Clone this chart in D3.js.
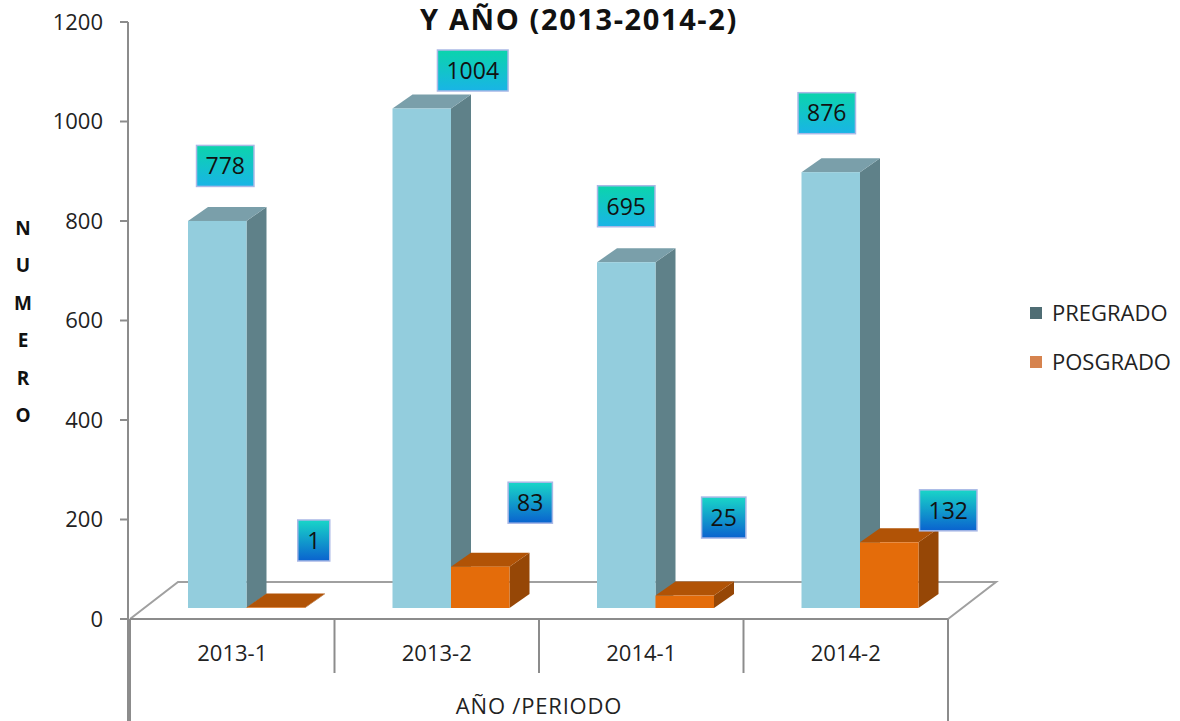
<!DOCTYPE html>
<html>
<head>
<meta charset="utf-8">
<script src="https://cdn.jsdelivr.net/npm/d3@7"></script>
<style>
  body { margin: 0; background: #fff; }
  svg { display: block; font-family: "Open Sans", "Noto Sans", sans-serif; }
</style>
</head>
<body>
<svg width="1180" height="721"></svg>
<script>
const categories = ["2013-1", "2013-2", "2014-1", "2014-2"];
const seriesNames = ["PREGRADO", "POSGRADO"];
const pregrado = [778, 1004, 695, 876];
const posgrado = [1, 83, 25, 132];
const yTicks = [0, 200, 400, 600, 800, 1000, 1200];

// hand-placed label boxes (offset from bar front-top centre), like the original
const labelShift = [
  [[8, -55], [51, -38], [0, -56], [-4, -59]],
  [[38, -67], [50, -64], [39, -78], [59, -32]]
];

const svg = d3.select("svg");
const values = [pregrado, posgrado];

const y = d3.scaleLinear().domain([0, 1200]).range([619, 22]);
const x = d3.scaleBand().domain(categories).range([130, 948]);
const xInner = d3.scaleBand().domain(seriesNames).range([58, 175]);

const barLift = 11;           // bars stand a bit behind the front edge of the floor
const depth = { dx: 20, dy: -14 };
const floor = { dx: 48, dy: -37 };

const faces = [
  { front: "#93cddd", top: "#7a9faa", side: "#5f8189" },
  { front: "#e46c0a", top: "#b15306", side: "#964706" }
];
const legendColors = ["#4f6d74", "#d6834e"];

const axisColor = "#8c8c8c";

// title (first line falls outside the picture)
svg.append("text")
  .attr("x", 579).attr("y", 30)
  .attr("text-anchor", "middle")
  .attr("font-size", 29).attr("font-weight", "bold")
  .attr("letter-spacing", 1.6)
  .attr("fill", "#111")
  .text("Y AÑO (2013-2014-2)");

// floor
const y0 = y(0);
svg.append("path")
  .attr("d", `M${x.range()[0]},${y0} L${x.range()[0] + floor.dx},${y0 + floor.dy} L${x.range()[1] + floor.dx},${y0 + floor.dy} L${x.range()[1]},${y0}`)
  .attr("fill", "none").attr("stroke", "#a0a0a0").attr("stroke-width", 2);

// y axis
const yAxis = svg.append("g");
yAxis.append("line")
  .attr("x1", 128).attr("x2", 128).attr("y1", y(1200)).attr("y2", 721)
  .attr("stroke", axisColor).attr("stroke-width", 2);
yAxis.selectAll(".tick").data(yTicks).enter().append("line")
  .attr("x1", 120).attr("x2", 128)
  .attr("y1", d => y(d)).attr("y2", d => y(d))
  .attr("stroke", axisColor).attr("stroke-width", 2);
yAxis.selectAll(".lbl").data(yTicks).enter().append("text")
  .attr("x", 103).attr("y", d => y(d)).attr("dy", "0.36em")
  .attr("text-anchor", "end").attr("font-size", 22).attr("fill", "#222")
  .text(d => d);

// y title, stacked letters
svg.append("g").selectAll("text").data("NUMERO".split("")).enter().append("text")
  .attr("x", 23).attr("y", (d, i) => 235 + i * 37.4)
  .attr("text-anchor", "middle").attr("font-size", 19).attr("font-weight", "bold")
  .attr("fill", "#111")
  .text(d => d);

// category axis
svg.append("line")
  .attr("x1", x.range()[0]).attr("x2", x.range()[1]).attr("y1", y0).attr("y2", y0)
  .attr("stroke", axisColor).attr("stroke-width", 2);
const dividers = categories.map(c => x(c)).concat([x.range()[1]]);
svg.selectAll(".div").data(dividers).enter().append("line")
  .attr("x1", d => d).attr("x2", d => d)
  .attr("y1", y0)
  .attr("y2", (d, i) => (i === 0 || i === dividers.length - 1) ? 721 : 673)
  .attr("stroke", axisColor).attr("stroke-width", 2);
svg.selectAll(".cat").data(categories).enter().append("text")
  .attr("x", d => x(d) + x.bandwidth() / 2).attr("y", 661)
  .attr("text-anchor", "middle").attr("font-size", 22).attr("fill", "#222")
  .text(d => d);
svg.append("text")
  .attr("x", 539).attr("y", 714)
  .attr("text-anchor", "middle").attr("font-size", 22).attr("letter-spacing", 0.8).attr("fill", "#222")
  .text("AÑO /PERIODO");

// 3D bars
const bars = svg.append("g");
categories.forEach((c, ci) => {
  seriesNames.forEach((s, si) => {
    const v = values[si][ci];
    const x0 = x(c) + xInner(s);
    const x1 = x0 + xInner.bandwidth();
    const yb = y(0) - barLift;
    const yt = y(v) - barLift;
    const f = faces[si];
    bars.append("path")
      .attr("d", `M${x1},${yb} L${x1 + depth.dx},${yb + depth.dy} L${x1 + depth.dx},${yt + depth.dy} L${x1},${yt} Z`)
      .attr("fill", f.side);
    bars.append("path")
      .attr("d", `M${x0},${yt} L${x0 + depth.dx},${yt + depth.dy} L${x1 + depth.dx},${yt + depth.dy} L${x1},${yt} Z`)
      .attr("fill", f.top);
    bars.append("rect")
      .attr("x", x0).attr("y", yt)
      .attr("width", xInner.bandwidth()).attr("height", yb - yt)
      .attr("fill", f.front);
  });
});

// label box gradients
const defs = svg.append("defs");
const grads = [["#0bd4ac", "#19b4e6"], ["#19d6c8", "#0a62cf"]];
grads.forEach((g, i) => {
  const lg = defs.append("linearGradient").attr("id", "lab" + i)
    .attr("x1", 0).attr("x2", 0).attr("y1", 0).attr("y2", 1);
  lg.append("stop").attr("offset", "0%").attr("stop-color", g[0]);
  lg.append("stop").attr("offset", "100%").attr("stop-color", g[1]);
});

// data labels
const labels = svg.append("g");
categories.forEach((c, ci) => {
  seriesNames.forEach((s, si) => {
    const v = values[si][ci];
    const cx = x(c) + xInner(s) + xInner.bandwidth() / 2 + labelShift[si][ci][0];
    const cy = y(v) - barLift + labelShift[si][ci][1];
    const g = labels.append("g");
    const t = g.append("text")
      .attr("x", cx).attr("y", cy).attr("dy", "0.36em")
      .attr("text-anchor", "middle").attr("font-size", 23).attr("fill", "#111")
      .text(v);
    const w = Math.max(32, t.node().getComputedTextLength() + 18);
    g.insert("rect", "text")
      .attr("x", cx - w / 2).attr("y", cy - 20.5)
      .attr("width", w).attr("height", 41)
      .attr("fill", `url(#lab${si})`)
      .attr("stroke", "#a9b8e6").attr("stroke-width", 1.5);
  });
});

// legend
const legend = svg.append("g");
seriesNames.forEach((s, i) => {
  legend.append("rect")
    .attr("x", 1030).attr("y", 307 + i * 49)
    .attr("width", 12).attr("height", 12)
    .attr("fill", legendColors[i]);
  legend.append("text")
    .attr("x", 1052).attr("y", 313 + i * 49).attr("dy", "0.36em")
    .attr("font-size", 22).attr("fill", "#222")
    .text(s);
});
</script>
</body>
</html>
